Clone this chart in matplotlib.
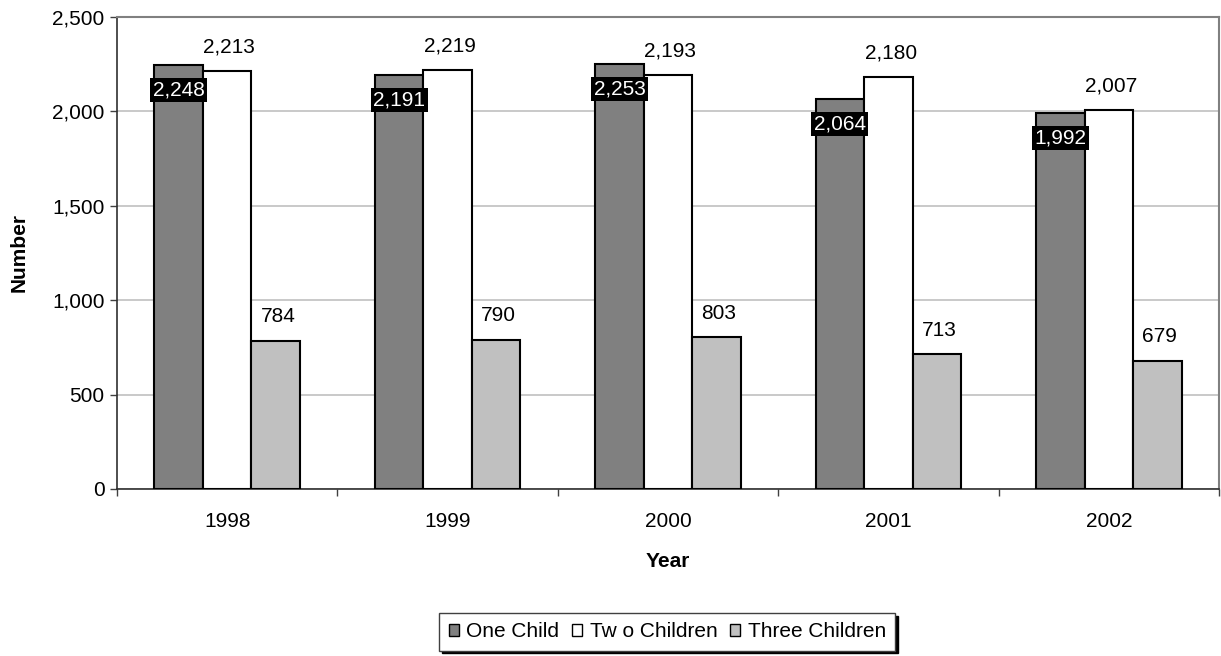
import matplotlib
matplotlib.use("Agg")
import matplotlib.pyplot as plt
import numpy as np
from matplotlib.ticker import FuncFormatter, FixedLocator

plt.rcParams['font.family'] = ['Liberation Sans', 'DejaVu Sans']

years = ['1998', '1999', '2000', '2001', '2002']
one_child = [2248, 2191, 2253, 2064, 1992]
two_children = [2213, 2219, 2193, 2180, 2007]
three_children = [784, 790, 803, 713, 679]
series_names = ['One Child', 'Tw o Children', 'Three Children']
colors = ['#808080', '#ffffff', '#c0c0c0']

FS = 15

fig = plt.figure(figsize=(12.21, 6.56), dpi=100)
ax = fig.add_axes([117/1221, 167/656, (1219-117)/1221, (489-17)/656])

x = np.arange(len(years))
w = 0.22
series = [one_child, two_children, three_children]
bars = []
for i, (vals, c, name) in enumerate(zip(series, colors, series_names)):
    b = ax.bar(x + (i - 1) * w, vals, width=w, color=c, edgecolor='black',
               linewidth=1.5, label=name, zorder=3)
    bars.append(b)

fmt = lambda v: f"{v:,.0f}"

# One child labels: white text in black box, just below bar top
for rect, v in zip(bars[0], one_child):
    ax.annotate(fmt(v), (rect.get_x() + rect.get_width()/2, v),
                xytext=(0, -22), textcoords='offset points',
                ha='center', va='baseline', fontsize=FS, color='white', zorder=5,
                bbox=dict(boxstyle='square,pad=0.12', facecolor='black', edgecolor='none'))
for b, vals in zip(bars[1:], series[1:]):
    for rect, v in zip(b, vals):
        ax.annotate(fmt(v), (rect.get_x() + rect.get_width()/2 + 0.01, v),
                    xytext=(0, 13.5), textcoords='offset points',
                    ha='center', va='baseline', fontsize=FS, color='black', zorder=5)

ax.set_xlim(-0.5, len(years) - 0.5)
ax.set_ylim(0, 2500)
ax.set_yticks(np.arange(0, 2501, 500))
ax.yaxis.set_major_formatter(FuncFormatter(lambda v, p: f"{v:,.0f}"))
ax.yaxis.grid(True, color='#c0c0c0', linewidth=1.2, zorder=0)
ax.set_axisbelow(True)

ax.set_xticks(x)
ax.set_xticklabels(years)
ax.xaxis.set_minor_locator(FixedLocator(np.arange(-0.5, len(years), 1.0)))
ax.tick_params(axis='x', which='major', length=0, pad=16.5, labelsize=FS)
ax.tick_params(axis='x', which='minor', length=5, width=1, color='#404040')
ax.tick_params(axis='y', length=5, width=1, color='#404040', pad=4, labelsize=FS)

for s in ['left', 'bottom']:
    ax.spines[s].set_color('#303030')
    ax.spines[s].set_linewidth(1.2)
for s in ['top', 'right']:
    ax.spines[s].set_color('#808080')
    ax.spines[s].set_linewidth(1.5)

ax.set_xlabel('Year', fontsize=FS, fontweight='bold', labelpad=15)
ax.set_ylabel('Number', fontsize=FS, fontweight='bold', labelpad=17)

leg = fig.legend(loc='center', bbox_to_anchor=(0.5465, 0.037), ncol=3,
                 fontsize=FS, frameon=True, fancybox=False,
                 shadow={'facecolor': 'black', 'edgecolor': 'black', 'alpha': 1},
                 handlelength=0.5, handleheight=0.5, handletextpad=0.35,
                 columnspacing=0.6, borderpad=0.45, borderaxespad=0)
leg.get_frame().set_edgecolor('#404040')
leg.get_frame().set_linewidth(1.0)
for h in leg.legend_handles:
    h.set_linewidth(1.0)

fig.savefig('out.png', dpi=100)
